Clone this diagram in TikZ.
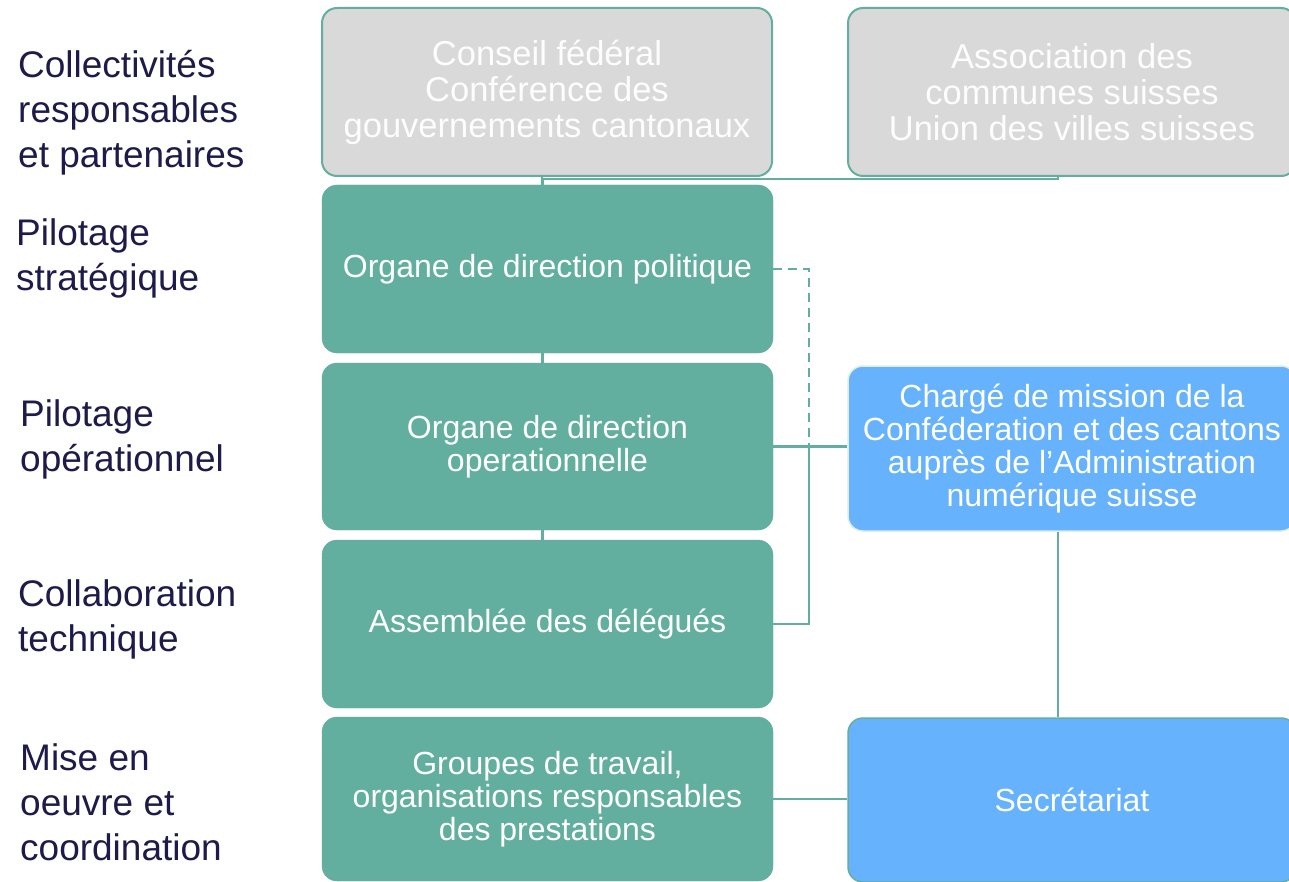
\documentclass[tikz,border=0pt]{standalone}
\usepackage{fontspec}
\setmainfont{Liberation Sans}
\usetikzlibrary{calc}
\definecolor{tealc}{HTML}{63AF9F}
\definecolor{grayc}{HTML}{D9D9D9}
\definecolor{bluec}{HTML}{66B2FD}
\definecolor{navyc}{HTML}{1E1A4A}
\definecolor{palec}{HTML}{DDEEE9}
\begin{document}
\begin{tikzpicture}[x=1pt,y=-1pt,
  box/.style={rectangle, rounded corners=15pt, inner sep=0pt, align=center, text=white, font=\fontsize{32}{33}\selectfont},
  topbox/.style={box, fill=grayc, draw=tealc, line width=2pt, font=\fontsize{34.5}{36}\selectfont, text=white!96!grayc},
  greenbox/.style={box, fill=tealc, draw=tealc},
  bluebox/.style={box, fill=bluec, draw=tealc, line width=1.5pt},
  lbl/.style={anchor=west, align=left, text=navyc, inner sep=0pt, font=\fontsize{37}{45}\selectfont},
  conn/.style={draw=tealc, line width=2.2pt}]
\useasboundingbox (0,0) rectangle (1289,882);
\fill[white] (0,0) rectangle (1289,882);

% left labels
\node[lbl] (l1) at (18,113) {Collectivités\\responsables\\et partenaires};
\node[lbl] (l2) at (16,258) {Pilotage\\stratégique};
\node[lbl] (l3) at (20,439) {Pilotage\\opérationnel};
\node[lbl] (l4) at (18,619) {Collaboration\\technique};
\node[lbl] (l5) at (20,802) {Mise en\\oeuvre et\\coordination};

% top boxes
\node[topbox, minimum width=450pt, minimum height=168pt] (t1) at (547,92)
  {Conseil fédéral\\Conférence des\\gouvernements cantonaux};
\node[topbox, minimum width=448pt, minimum height=168pt] (t2) at (1072,92)
  {Association des\\communes suisses\\Union des villes suisses};

% green boxes
\node[greenbox, minimum width=451pt, minimum height=168pt] (g1) at (547.5,269)
  {Organe de direction politique};
\node[greenbox, minimum width=451pt, minimum height=167pt] (g2) at (547.5,446.5)
  {Organe de direction\\operationnelle};
\node[greenbox, minimum width=451pt, minimum height=168pt] (g3) at (547.5,624)
  {Assemblée des délégués};
\node[greenbox, minimum width=451pt, minimum height=164pt] (g4) at (547.5,799)
  {Groupes de travail,\\organisations responsables\\des prestations};

% blue boxes
\node[bluebox, draw=palec, minimum width=448pt, minimum height=165pt] (b1) at (1072,448.5)
  {Chargé de mission de la\\Conféderation et des cantons\\auprès de l’Administration\\numérique suisse};
\node[bluebox, minimum width=448pt, minimum height=164pt] (b2) at (1072,800)
  {Secrétariat};

% connectors
\draw[conn] ([xshift=-5pt]t1.south) -- ([xshift=-5pt]g1.north);
\draw[conn] ([xshift=-14pt]t2.south) -- ++(0,2) -| ([xshift=-5pt]g1.north);
\draw[conn] ([xshift=-5pt]g1.south) -- ([xshift=-5pt]g2.north);
\draw[conn] ([xshift=-5pt]g2.south) -- ([xshift=-5pt]g3.north);
\draw[conn, dash pattern=on 9pt off 6pt] (g1.east) -| ([xshift=36pt]g2.east);
\draw[conn] (g2.east) -- (g2.east -| b1.west);
\draw[conn] (g3.east) -| ([xshift=36pt]g2.east);
\draw[conn] ([xshift=-14pt]b1.south) -- ([xshift=-14pt]b2.north);
\draw[conn] (g4.east) -- (g4.east -| b2.west);
\end{tikzpicture}
\end{document}
